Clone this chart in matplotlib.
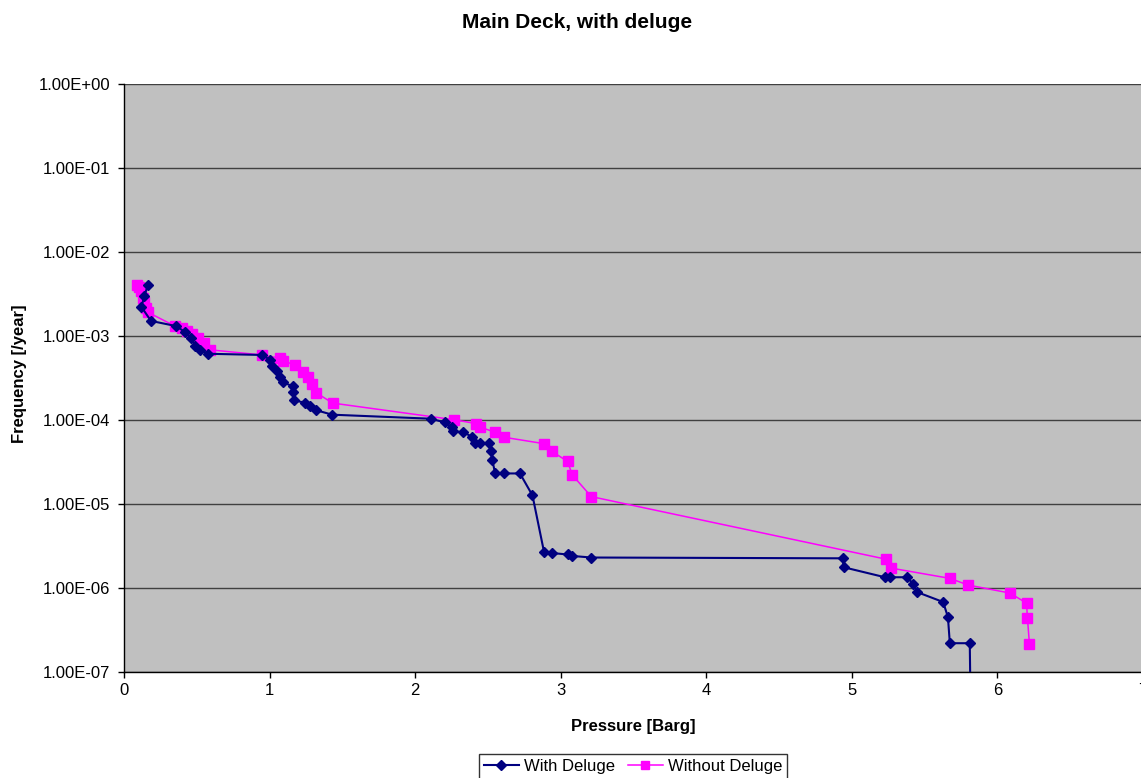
import matplotlib
matplotlib.use("Agg")
import matplotlib.pyplot as plt
from matplotlib.ticker import FuncFormatter, NullLocator, FixedLocator

plt.rcParams['font.family'] = ['Liberation Sans', 'DejaVu Sans']

# With Deluge (pressure [barg], frequency [/year])
with_p = [0.165, 0.14, 0.12, 0.185, 0.36, 0.42, 0.46, 0.49, 0.52, 0.58,
          0.95, 1.00, 1.02, 1.05, 1.07, 1.09, 1.16, 1.16, 1.17, 1.24,
          1.28, 1.32, 1.43, 2.106, 2.205, 2.25, 2.26, 2.33, 2.39, 2.41,
          2.445, 2.51, 2.52, 2.53, 2.55, 2.61, 2.72, 2.806, 2.885, 2.94,
          3.047, 3.08, 3.21, 4.936, 4.945, 5.227, 5.265, 5.38, 5.42, 5.45,
          5.627, 5.66, 5.673, 5.81, 5.82]
with_f = [4.0e-3, 3.0e-3, 2.2e-3, 1.5e-3, 1.3e-3, 1.1e-3, 9.5e-4, 7.5e-4, 6.8e-4, 6.1e-4,
          5.9e-4, 5.2e-4, 4.4e-4, 3.8e-4, 3.25e-4, 2.8e-4, 2.5e-4, 2.15e-4, 1.7e-4, 1.6e-4,
          1.47e-4, 1.3e-4, 1.15e-4, 1.03e-4, 9.3e-5, 8.2e-5, 7.3e-5, 7.1e-5, 6.3e-5, 5.3e-5,
          5.3e-5, 5.3e-5, 4.3e-5, 3.3e-5, 2.3e-5, 2.3e-5, 2.3e-5, 1.26e-5, 2.7e-6, 2.6e-6,
          2.5e-6, 2.4e-6, 2.3e-6, 2.25e-6, 1.76e-6, 1.34e-6, 1.34e-6, 1.34e-6, 1.12e-6, 8.9e-7,
          6.8e-7, 4.5e-7, 2.2e-7, 2.2e-7, 1.0e-8]

# Without Deluge
without_p = [0.089, 0.103, 0.117, 0.13, 0.137, 0.151, 0.165, 0.35, 0.40, 0.43,
             0.47, 0.51, 0.55, 0.59, 0.95, 1.07, 1.094, 1.175, 1.232, 1.266,
             1.29, 1.32, 1.433, 2.27, 2.42, 2.445, 2.55, 2.61, 2.885, 2.94,
             3.047, 3.08, 3.21, 5.233, 5.27, 5.673, 5.8, 6.085, 6.2, 6.206, 6.22]
without_f = [4.0e-3, 3.8e-3, 3.4e-3, 2.8e-3, 2.5e-3, 2.15e-3, 1.9e-3, 1.3e-3, 1.25e-3, 1.15e-3,
             1.05e-3, 9.5e-4, 8.2e-4, 6.8e-4, 5.9e-4, 5.4e-4, 5.0e-4, 4.5e-4, 3.7e-4, 3.2e-4,
             2.7e-4, 2.1e-4, 1.58e-4, 1.0e-4, 9.0e-5, 8.2e-5, 7.1e-5, 6.2e-5, 5.2e-5, 4.2e-5,
             3.2e-5, 2.2e-5, 1.22e-5, 2.2e-6, 1.72e-6, 1.3e-6, 1.08e-6, 8.7e-7, 6.6e-7, 4.4e-7, 2.15e-7]

series_labels = ["With Deluge", "Without Deluge"]
x_ticks = [0, 1, 2, 3, 4, 5, 6, 7]
y_ticks = [1e-7, 1e-6, 1e-5, 1e-4, 1e-3, 1e-2, 1e-1, 1e0]

W, H = 1141, 778
fig = plt.figure(figsize=(W / 100, H / 100), dpi=100)
fig.patch.set_facecolor('white')
ax = fig.add_axes([124 / W, (H - 672) / H, (1143 - 124) / W, (672 - 83.5) / H])
ax.set_facecolor('#C0C0C0')

ax.plot(with_p, with_f, color='#000080', lw=1.5, marker='D', ms=5.2,
        mfc='#000080', mec='#000080', label=series_labels[0], zorder=4)
ax.plot(without_p, without_f, color='#FF00FF', lw=1.1, marker='s', ms=7,
        mfc='#FF00FF', mec='#FF00FF', label=series_labels[1], zorder=3)

ax.set_yscale('log')
ax.set_xlim(0, 7)
ax.set_ylim(1e-7, 1)
ax.xaxis.set_major_locator(FixedLocator(x_ticks))
ax.yaxis.set_major_locator(FixedLocator(y_ticks))
ax.yaxis.set_minor_locator(NullLocator())
ax.xaxis.set_major_formatter(FuncFormatter(lambda v, p: f"{int(round(v))}"))
ax.yaxis.set_major_formatter(FuncFormatter(lambda v, p: f"{v:.2E}"))

ax.yaxis.grid(True, color='#404040', lw=1.0)
ax.set_axisbelow(True)
for s in ['top', 'right']:
    ax.spines[s].set_visible(False)
for s in ['left', 'bottom']:
    ax.spines[s].set_color('black')
    ax.spines[s].set_linewidth(1.0)
ax.tick_params(axis='both', direction='out', length=4, width=1, labelsize=12, colors='black')
ax.tick_params(axis='y', pad=6)
ax.tick_params(axis='x', pad=4)

fig.text(577 / W, 1 - 22 / H, "Main Deck, with deluge", ha='center', va='center',
         fontsize=15, fontweight='bold')
fig.text(20 / W, 1 - 374 / H, "Frequency [/year]", ha='center', va='center',
         rotation=90, fontsize=12, fontweight='bold')
fig.text(633 / W, 1 - 727 / H, "Pressure [Barg]", ha='center', va='center',
         fontsize=12, fontweight='bold')

leg = fig.legend(loc='center', bbox_to_anchor=(633 / W, 1 - 766 / H), ncol=2,
                 fontsize=12, frameon=True, fancybox=False, edgecolor='black',
                 handlelength=2.1, handletextpad=0.3, columnspacing=0.8,
                 borderpad=0.3, borderaxespad=0)
leg.get_frame().set_linewidth(1.0)
for h in leg.legend_handles:
    h.set_markersize(h.get_markersize() * 0.9)

fig.savefig("out.png", dpi=100)
